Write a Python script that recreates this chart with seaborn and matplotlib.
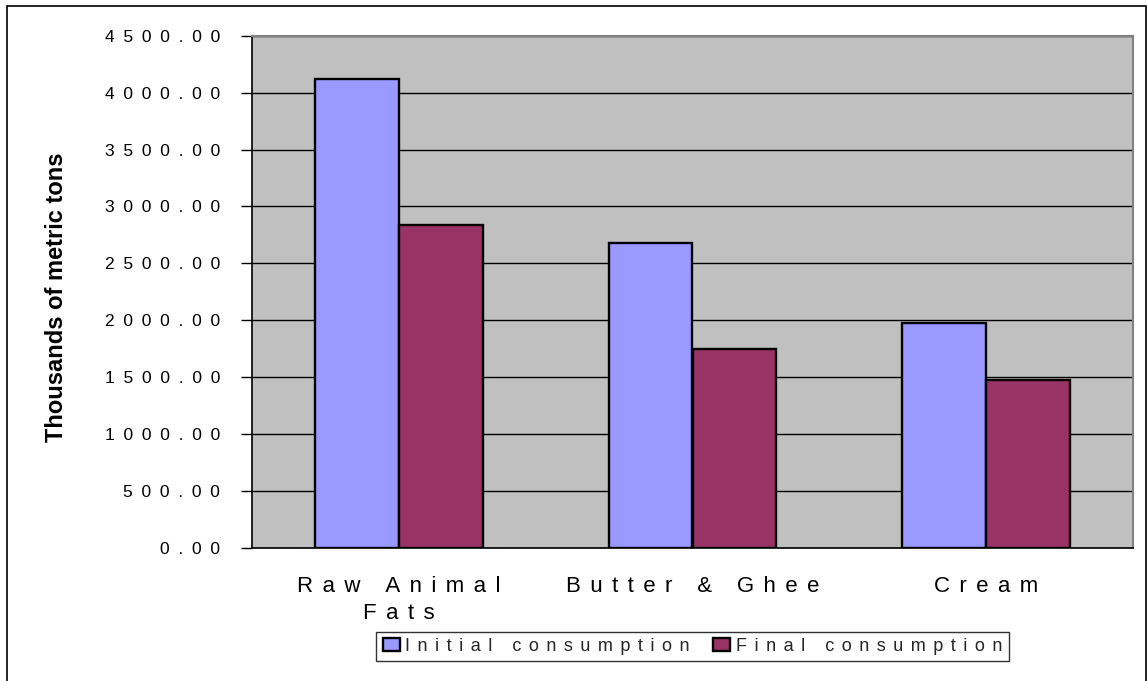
import matplotlib
matplotlib.use("Agg")
import matplotlib.pyplot as plt
import seaborn as sns
import pandas as pd
from matplotlib.patches import Rectangle
from matplotlib.ticker import MultipleLocator, FixedLocator

categories = ["Raw Animal\nFats", "Butter & Ghee", "Cream"]
series = ["Initial consumption", "Final consumption"]
initial = [4120, 2675, 1980]
final = [2839, 1749, 1477]
colors = ["#9999FF", "#993366"]

EN = "\u2002"                 # en space
WIDE = "\u2005\u2006"         # four-per-em + six-per-em space


def spaced(s, sep):
    # wide character spacing, line by line
    return "\n".join(sep.join(line) for line in s.split("\n"))


df = pd.DataFrame({
    "category": categories * 2,
    "series": [series[0]] * 3 + [series[1]] * 3,
    "value": initial + final,
})

sns.set_theme(style="white")
plt.rcParams["font.family"] = ["Liberation Sans", "DejaVu Sans"]

W, H = 1148, 681
fig = plt.figure(figsize=(W / 100, H / 100), dpi=100)
ax = fig.add_axes([252 / W, (H - 548) / H, (1133 - 252) / W, (548 - 35.7) / H])
ax.set_facecolor("#C0C0C0")

sns.barplot(data=df, x="category", y="value", hue="series", palette=colors,
            order=categories, hue_order=series, width=0.572,
            edgecolor="black", linewidth=1.7, saturation=1, ax=ax)

ax.set_xlim(-0.5, 2.5)
ax.set_ylim(0, 4500)
ax.yaxis.set_major_locator(MultipleLocator(500))
ax.set_yticks(ax.get_yticks())
ax.set_yticklabels([spaced(f"{v:.2f}", EN) for v in ax.get_yticks()],
                   fontsize=12.5, color="black")
ax.set_ylim(0, 4500)
ax.grid(axis="y", color="black", linewidth=1.0)
ax.set_axisbelow(True)

ax.set_xticks(range(3))
ax.set_xticklabels([spaced(c, WIDE) for c in categories], fontsize=16,
                   linespacing=1.4, color="black")
ax.xaxis.set_minor_locator(FixedLocator([-0.5, 0.5, 1.5, 2.5]))
ax.tick_params(axis="x", which="major", length=0, pad=20)
ax.tick_params(axis="x", which="minor", length=7, width=1, color="black", direction="out")
ax.tick_params(axis="y", length=8, width=1, color="black", direction="out", pad=15, left=True)

for side in ["top", "right"]:
    ax.spines[side].set_color("#808080")
    ax.spines[side].set_linewidth(1.5)
for side in ["left", "bottom"]:
    ax.spines[side].set_color("black")
    ax.spines[side].set_linewidth(1.2)

ax.set_xlabel("")
ax.set_ylabel("")
fig.text(57 / W, 1 - 297 / H, "Thousands of metric tons", rotation=90,
         ha="center", va="center", fontsize=17, fontweight="bold", color="black")

handles, labels = ax.get_legend_handles_labels()
leg = ax.legend(handles, [spaced(l, WIDE) for l in series], loc="upper center",
                bbox_to_anchor=(0.5, -0.163), ncol=2, frameon=True, fancybox=False,
                edgecolor="black", fontsize=13, handlelength=0.95, handleheight=0.75,
                handletextpad=0.3, columnspacing=1.3, borderpad=0.35, borderaxespad=0)
leg.get_frame().set_linewidth(1.0)

fig.patches.append(Rectangle((7 / W, -0.01), (W - 9) / W, (H - 6) / H + 0.01,
                             transform=fig.transFigure, fill=False,
                             edgecolor="black", linewidth=1.2))

fig.savefig("out.png", dpi=100)
